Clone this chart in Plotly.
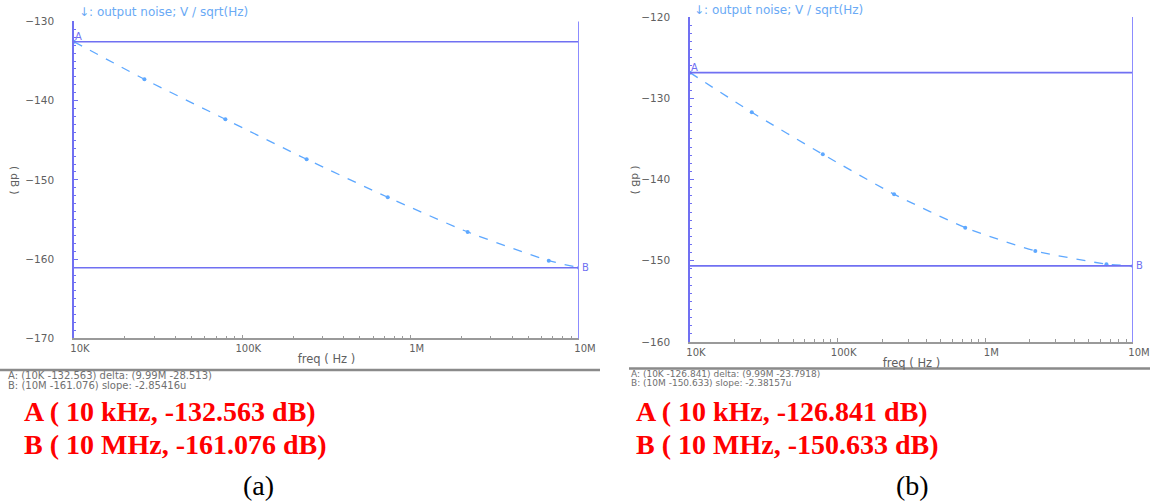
import plotly.graph_objects as go

# ---------------- data ----------------
freq_hz = [1e4, 2.62e4, 7.93e4, 2.41e5, 7.31e5, 2.18e6, 6.61e6, 1e7]
noise_a_db = [-132.563, -137.30, -142.35, -147.40, -152.19, -156.57, -160.19, -161.076]
noise_b_db = [-126.841, -131.72, -136.89, -141.81, -145.92, -148.79, -150.42, -150.633]

x_tickvals = [1e4, 1e5, 1e6, 1e7]
x_ticktext = ["10K", "100K", "1M", "10M"]
ya_tickvals = [-170, -160, -150, -140, -130]
yb_tickvals = [-160, -150, -140, -130, -120]

info_a = ["A: (10K -132.563) delta: (9.99M -28.513)", "B: (10M -161.076) slope: -2.85416u"]
info_b = ["A: (10K -126.841) delta: (9.99M -23.7918)", "B: (10M -150.633) slope: -2.38157u"]
red_a = ["A ( 10 kHz, -132.563 dB)", "B ( 10 MHz, -161.076 dB)"]
red_b = ["A ( 10 kHz, -126.841 dB)", "B ( 10 MHz, -150.633 dB)"]
title_txt = "↓: output noise; V / sqrt(Hz)"

W, H = 1150, 504
AXBLUE = "#7070f2"
CURVE = "#5ea8ff"
GRAY = "#606060"

def px(x):
    return x / W

def py(y):
    return 1 - y / H

minor_x = [m * 10 ** e for e in (4, 5, 6) for m in range(2, 10)]

fig = go.Figure()

panels = [
    dict(xa="x", ya="y", data=noise_a_db, xd=[px(74), px(579)], yd=[py(338.4), py(21.4)],
         yr=[-170, -130], yt=ya_tickvals, info=info_a, red=red_a, lab="(a)",
         info_x=6, sep=[0, 600], sep_y=370, info_y=375, info_dy=10.5, info_size=10,
         red_x=22, lab_x=258, ylab_x=15, title_x=77, title_y=12),
    dict(xa="x2", ya="y2", data=noise_b_db, xd=[px(690), px(1133)], yd=[py(342), py(17.1)],
         yr=[-160, -120], yt=yb_tickvals, info=info_b, red=red_b, lab="(b)",
         info_x=629, sep=[629, 1150], sep_y=368.5, info_y=374, info_dy=9, info_size=9,
         red_x=634, lab_x=912, ylab_x=636, title_x=692, title_y=10),
]

shapes = []
annotations = []
for i, p in enumerate(panels):
    sfx = "" if i == 0 else "2"
    fig.add_trace(go.Scatter(
        x=freq_hz, y=p["data"], xaxis=p["xa"], yaxis=p["ya"],
        mode="lines+markers", line=dict(color=CURVE, width=1.3, dash="dash", shape="spline", smoothing=0.5),
        marker=dict(color=CURVE, size=4), showlegend=False, hoverinfo="skip"))
    fig.layout["xaxis" + sfx] = dict(
        type="log", domain=p["xd"], range=[4, 7], anchor=p["ya"], automargin=False,
        showgrid=False, zeroline=False, showline=True, linecolor="#9a9a9a", linewidth=1.5,
        tickmode="array", tickvals=x_tickvals, ticktext=x_ticktext,
        ticks="inside", ticklen=4, tickcolor="#9a9a9a",
        minor=dict(tickmode="array", tickvals=minor_x, ticks="inside", ticklen=3, tickcolor="#9a9a9a", showgrid=False),
        tickfont=dict(family="DejaVu Sans", size=10, color=GRAY), ticklabelshift=6,
        title=dict(text="freq ( Hz )", font=dict(family="DejaVu Sans", size=11.5, color=GRAY), standoff=2),
    )
    fig.layout["yaxis" + sfx] = dict(
        domain=p["yd"], range=p["yr"], anchor=p["xa"], automargin=False,
        showgrid=False, zeroline=False, showline=True, linecolor=AXBLUE, linewidth=1.5,
        tickmode="array", tickvals=p["yt"], ticks="inside", ticklen=4, tickcolor=AXBLUE,
        minor=dict(dtick=1, ticks="inside", ticklen=2, tickcolor=AXBLUE, showgrid=False),
        tickfont=dict(family="DejaVu Sans", size=10.5, color=GRAY), ticklabelstandoff=16,
    )
    xref, yref = p["xa"], p["ya"]
    va, vb = p["data"][0], p["data"][-1]
    f0, f1 = freq_hz[0], freq_hz[-1]
    # marker lines A and B, vertical line at B
    shapes.append(dict(type="line", xref=xref, yref=yref, x0=f0, x1=f1, y0=va, y1=va,
                       line=dict(color=AXBLUE, width=1.6)))
    shapes.append(dict(type="line", xref=xref, yref=yref, x0=f0, x1=f1, y0=vb, y1=vb,
                       line=dict(color=AXBLUE, width=1.6)))
    shapes.append(dict(type="line", xref=xref, yref=yref + " domain", x0=f1, x1=f1, y0=0, y1=1,
                       line=dict(color="#8c8cff", width=2)))
    annotations.append(dict(xref=xref, yref=yref, x=4, y=va, text="A", showarrow=False,
                            xanchor="left", yanchor="bottom", xshift=-1, yshift=-2,
                            font=dict(family="DejaVu Sans", size=10, color=AXBLUE)))
    annotations.append(dict(xref=xref, yref=yref, x=7, y=vb, text="B", showarrow=False,
                            xanchor="left", yanchor="middle", xshift=1,
                            font=dict(family="DejaVu Sans", size=10, color=AXBLUE)))
    # title
    annotations.append(dict(xref="paper", yref="paper", x=px(p["title_x"]), y=py(p["title_y"]),
                            text=title_txt, showarrow=False, xanchor="left", yanchor="middle",
                            font=dict(family="DejaVu Sans", size=12, color="#6aaaf5")))
    # y label
    annotations.append(dict(xref="paper", yref="paper", x=px(p["ylab_x"]), y=sum(p["yd"]) / 2,
                            text="( dB )", showarrow=False, textangle=90, xanchor="center", yanchor="middle",
                            font=dict(family="DejaVu Sans", size=10.5, color=GRAY)))
    # separator
    shapes.append(dict(type="line", xref="paper", yref="paper", x0=px(p["sep"][0]), x1=px(p["sep"][1]),
                       y0=py(p["sep_y"]), y1=py(p["sep_y"]), line=dict(color="#8a8a8a", width=2.5)))
    # cursor info
    for k, t in enumerate(p["info"]):
        annotations.append(dict(xref="paper", yref="paper", x=px(p["info_x"]), y=py(p["info_y"] + p["info_dy"] * k),
                                text=t, showarrow=False, xanchor="left", yanchor="middle",
                                font=dict(family="DejaVu Sans", size=p["info_size"], color="#707070")))
    # red annotations
    for k, t in enumerate(p["red"]):
        annotations.append(dict(xref="paper", yref="paper", x=px(p["red_x"]), y=py(411 + 33 * k),
                                text="<b>" + t + "</b>", showarrow=False, xanchor="left", yanchor="middle",
                                font=dict(family="Liberation Serif", size=28, color="#ff0000")))
    annotations.append(dict(xref="paper", yref="paper", x=px(p["lab_x"]), y=py(485),
                            text=p["lab"], showarrow=False, xanchor="center", yanchor="middle",
                            font=dict(family="Liberation Serif", size=28, color="#000000")))

fig.update_layout(
    width=W, height=H, margin=dict(l=0, r=0, t=0, b=0, autoexpand=False),
    paper_bgcolor="white", plot_bgcolor="white",
    shapes=shapes, annotations=annotations, showlegend=False,
)

fig.write_html("out.html", config={"displayModeBar": False},
               post_script="document.body.style.margin='0';document.body.style.overflow='hidden';")
